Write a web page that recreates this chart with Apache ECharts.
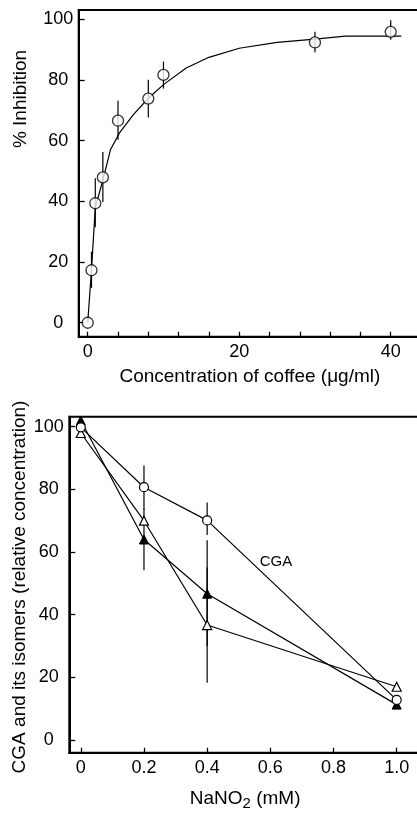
<!DOCTYPE html>
<html>
<head>
<meta charset="utf-8">
<script src="https://cdn.jsdelivr.net/npm/echarts@6/dist/echarts.min.js"></script>
<style>
html,body{margin:0;padding:0;background:#fff;}
#chart{width:417px;height:813px;}
</style>
</head>
<body>
<div id="chart"></div>
<script>
// ---- Top panel: % inhibition vs concentration of coffee ----
const coffeeConc = [0, 0.5, 1, 2, 4, 8, 10, 30, 40];
const inhibition = [0, 17.3, 39.4, 47.9, 66.6, 73.9, 81.7, 92.4, 95.9];
const inhibErrLow = [null, 11.5, 31.5, 39.8, 60.3, 67.7, 77.2, 89.2, 93.3];
const inhibErrHigh = [null, 23.4, 47.6, 56.3, 73.2, 80.1, 86.1, 95.9, 99.7];
const curveConc = [0, 0.5, 1, 2, 3, 4.2, 6, 8, 10, 13, 16, 20, 25, 30, 34, 41.4];
const curveInhib = [0, 17.5, 38, 47, 57, 62.6, 68.5, 74, 78.5, 84, 87.5, 90.5, 92.4, 93.5, 94.5, 94.5];
const topXTicks = [0, 4, 8, 12, 16, 20, 24, 28, 32, 36, 40];
const topXLabels = [0, 20, 40];
const topYTicks = [0, 20, 40, 60, 80, 100];

// ---- Bottom panel: CGA and isomers vs NaNO2 ----
const nano2 = [0, 0.2, 0.4, 1.0];
const cga = [99.8, 80.7, 70.1, 12.8];
const cgaErrLow = [null, 73.5, 65.4, null];
const cgaErrHigh = [null, 87.6, 75.8, null];
const isomerOpen = [98.0, 70.0, 36.7, 17.0];
const openErrLow = [null, null, 18.3, null];
const openErrHigh = [null, null, 55.1, null];
const isomerFilled = [102.0, 64.0, 46.7, 11.3];
const filledErrLow = [null, 54.2, 30.0, null];
const filledErrHigh = [null, 73.8, 63.8, null];
const botXTicks = [0, 0.2, 0.4, 0.6, 0.8, 1.0];
const botXTickLabels = ['0', '0.2', '0.4', '0.6', '0.8', '1.0'];
const botYTicks = [0, 20, 40, 60, 80, 100];

const FONT = '"Liberation Sans", Arial, Helvetica, sans-serif';

function pairs(xs, ys) { return xs.map((x, i) => [x, ys[i]]); }
function errData(xs, lo, hi) {
  const out = [];
  xs.forEach((x, i) => { if (lo[i] != null && hi[i] != null) out.push([x, lo[i], hi[i]]); });
  return out;
}
function errSeries(xi, yi, data, z) {
  return {
    type: 'custom', xAxisIndex: xi, yAxisIndex: yi, z: z || 2, silent: true,
    encode: { x: 0, y: [1, 2] },
    data: data,
    renderItem: function (params, api) {
      const p1 = api.coord([api.value(0), api.value(1)]);
      const p2 = api.coord([api.value(0), api.value(2)]);
      return { type: 'line', shape: { x1: p1[0], y1: p1[1], x2: p2[0], y2: p2[1] },
        style: { stroke: '#000', lineWidth: 1.2 } };
    }
  };
}

const chart = echarts.init(document.getElementById('chart'), null, { renderer: 'canvas' });

const axisCommonX = {
  type: 'value',
  axisLine: { show: true, onZero: false, lineStyle: { color: '#000', width: 2 } },
  axisTick: { show: true, inside: true, length: 5, lineStyle: { color: '#000', width: 1.3 } },
  splitLine: { show: false },
  axisLabel: { color: '#000', fontSize: 18, fontFamily: FONT, margin: 6 },
  nameLocation: 'middle',
  nameTextStyle: { color: '#000', fontSize: 19, fontFamily: FONT }
};
const axisCommonY = {
  type: 'value',
  axisLine: { show: true, onZero: false, lineStyle: { color: '#000', width: 2 } },
  axisTick: { show: true, inside: true, length: 6, lineStyle: { color: '#000', width: 1.3 } },
  splitLine: { show: false },
  axisLabel: { color: '#000', fontSize: 18, fontFamily: FONT, align: 'center', margin: 21 }
};

const option = {
  animation: false,
  backgroundColor: '#fff',
  grid: [
    { left: 78.7, top: 10, width: 342.3, height: 326.7, show: true, borderColor: '#000', borderWidth: 2,
      backgroundColor: 'transparent', containLabel: false, outerBoundsMode: 'none' },
    { left: 69.3, top: 416.7, width: 351.7, height: 336, show: true, borderColor: '#000', borderWidth: 2,
      backgroundColor: 'transparent', containLabel: false, outerBoundsMode: 'none' }
  ],
  xAxis: [
    Object.assign({}, axisCommonX, {
      gridIndex: 0, min: -1.19, max: 44,
      axisTick: Object.assign({}, axisCommonX.axisTick, { customValues: topXTicks }),
      axisLabel: Object.assign({}, axisCommonX.axisLabel, { customValues: topXLabels }),
      name: 'Concentration of coffee (\u03bcg/ml)', nameGap: 31
    }),
    Object.assign({}, axisCommonX, {
      gridIndex: 1, min: -0.0364, max: 1.077,
      axisTick: Object.assign({}, axisCommonX.axisTick, { customValues: botXTicks }),
      axisLabel: Object.assign({}, axisCommonX.axisLabel, {
        customValues: botXTicks,
        formatter: function (v) {
          const i = botXTicks.findIndex(t => Math.abs(t - v) < 1e-9);
          return i >= 0 ? botXTickLabels[i] : '';
        }
      }),
      name: '{a|NaNO}{s|2}{a| (mM)}', nameGap: 37,
      nameTextStyle: {
        color: '#000', fontSize: 19, fontFamily: FONT,
        rich: {
          a: { fontSize: 19, fontFamily: FONT, color: '#000', lineHeight: 26, verticalAlign: 'top', padding: [0, 0, 0, 0] },
          s: { fontSize: 15, fontFamily: FONT, color: '#000', lineHeight: 26, verticalAlign: 'top', padding: [7, 0, 0, 0] }
        }
      }
    })
  ],
  yAxis: [
    Object.assign({}, axisCommonY, {
      gridIndex: 0, min: -4.6, max: 103.1,
      axisTick: Object.assign({}, axisCommonY.axisTick, { customValues: topYTicks }),
      axisLabel: Object.assign({}, axisCommonY.axisLabel, { customValues: topYTicks, margin: 20.5 })
    }),
    Object.assign({}, axisCommonY, {
      gridIndex: 1, min: -4.05, max: 103.2,
      axisTick: Object.assign({}, axisCommonY.axisTick, { customValues: botYTicks }),
      axisLabel: Object.assign({}, axisCommonY.axisLabel, { customValues: botYTicks, margin: 20.5 })
    })
  ],
  graphic: [
    { type: 'text', x: 21, y: 99, rotation: Math.PI / 2,
      style: { text: '% Inhibition', fontSize: 19, fontFamily: FONT, fill: '#000', align: 'center', verticalAlign: 'middle' } },
    { type: 'text', x: 20, y: 587, rotation: Math.PI / 2,
      style: { text: 'CGA and its isomers (relative concentration)', fontSize: 19, fontFamily: FONT, fill: '#000', align: 'center', verticalAlign: 'middle' } },
    { type: 'text', x: 276, y: 562,
      style: { text: 'CGA', fontSize: 15, fontFamily: FONT, fill: '#000', align: 'center', verticalAlign: 'middle' } }
  ],
  series: [
    // top panel
    { type: 'line', xAxisIndex: 0, yAxisIndex: 0, data: pairs(curveConc, curveInhib), showSymbol: false, symbol: 'none',
      lineStyle: { color: '#000', width: 1.2 }, z: 2, silent: true },
    errSeries(0, 0, errData(coffeeConc, inhibErrLow, inhibErrHigh), 3),
    { type: 'scatter', xAxisIndex: 0, yAxisIndex: 0, data: pairs(coffeeConc, inhibition), symbol: 'circle', symbolSize: 11,
      itemStyle: { color: '#fff', borderColor: '#000', borderWidth: 1.3 }, z: 5, silent: true },
    // bottom panel
    errSeries(1, 1, errData(nano2, filledErrLow, filledErrHigh), 3),
    errSeries(1, 1, errData(nano2, openErrLow, openErrHigh), 3),
    errSeries(1, 1, errData(nano2, cgaErrLow, cgaErrHigh), 3),
    { type: 'line', xAxisIndex: 1, yAxisIndex: 1, data: pairs(nano2, isomerFilled), symbol: 'triangle', symbolSize: 9, showSymbol: true,
      lineStyle: { color: '#000', width: 1.2 }, itemStyle: { color: '#000', borderColor: '#000', borderWidth: 1 }, z: 4, silent: true },
    { type: 'line', xAxisIndex: 1, yAxisIndex: 1, data: pairs(nano2, isomerOpen), symbol: 'triangle', symbolSize: 9, showSymbol: true,
      lineStyle: { color: '#000', width: 1.2 }, itemStyle: { color: '#fff', borderColor: '#000', borderWidth: 1.2 }, z: 5, silent: true },
    { type: 'line', xAxisIndex: 1, yAxisIndex: 1, data: pairs(nano2, cga), symbol: 'circle', symbolSize: 9, showSymbol: true,
      lineStyle: { color: '#000', width: 1.2 }, itemStyle: { color: '#fff', borderColor: '#000', borderWidth: 1.2 }, z: 6, silent: true }
  ]
};
chart.setOption(option);
</script>
</body>
</html>
